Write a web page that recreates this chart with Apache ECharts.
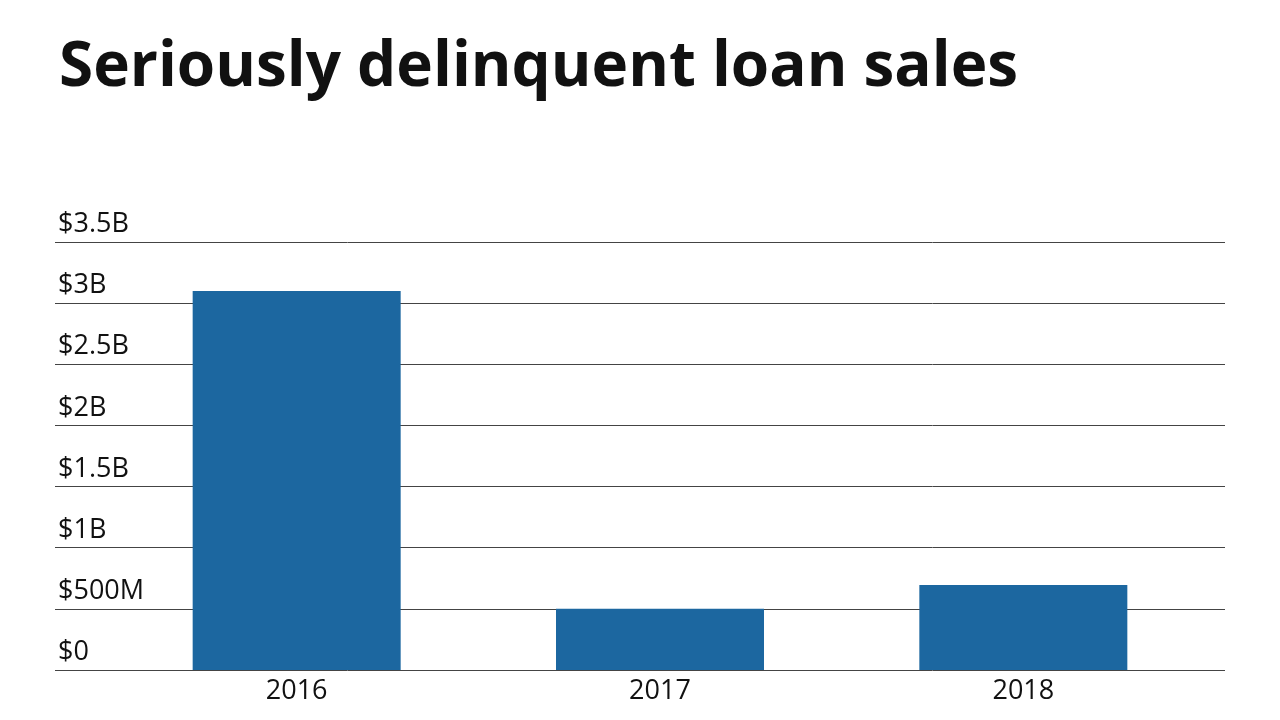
<!DOCTYPE html>
<html><head><meta charset="utf-8">
<script src="https://cdn.jsdelivr.net/npm/echarts@6/dist/echarts.min.js"></script>
<style>html,body{margin:0;background:#fff}#main{width:1280px;height:720px}</style>
</head><body><div id="main"></div>
<script>
const years = ['2016', '2017', '2018'];
const sales = [3.10, 0.50, 0.695]; // billions of dollars
const tickLabels = ['$0', '$500M', '$1B', '$1.5B', '$2B', '$2.5B', '$3B', '$3.5B'];

const chart = echarts.init(document.getElementById('main'));
const font = '"Open Sans", "Noto Sans", sans-serif';
chart.setOption({
    animation: false,
    title: {
        text: 'Seriously delinquent loan sales',
        left: 54, top: 32,
        textStyle: { fontFamily: font, fontSize: 62, fontWeight: 'bold', color: '#111' }
    },
    grid: [
        { left: 55, right: 55, top: 242, bottom: 50 },
        { left: 115, right: 75, top: 242, bottom: 50 }
    ],
    xAxis: [
        { gridIndex: 0, type: 'category', data: years, show: false },
        {
            gridIndex: 1, type: 'category', data: years,
            axisLine: { show: false }, axisTick: { show: false },
            axisLabel: { fontFamily: font, fontSize: 27, color: '#111', margin: 8 }
        }
    ],
    yAxis: [
        {
            gridIndex: 0, type: 'value', min: 0, max: 3.5, interval: 0.5,
            axisLine: { show: false }, axisTick: { show: false },
            splitLine: { lineStyle: { color: '#444', width: 1 } },
            axisLabel: {
                inside: true, margin: 3, verticalAlign: 'bottom', align: 'left',
                padding: [0, 0, 4, 0],
                fontFamily: font, fontSize: 27, color: '#111',
                formatter: (v) => tickLabels[Math.round(v * 2)]
            }
        },
        { gridIndex: 1, type: 'value', min: 0, max: 3.5, interval: 0.5, show: false }
    ],
    series: [{
        type: 'bar', xAxisIndex: 1, yAxisIndex: 1,
        data: sales, barWidth: 208,
        itemStyle: { color: '#1c67a0' }
    }]
});
</script></body></html>
